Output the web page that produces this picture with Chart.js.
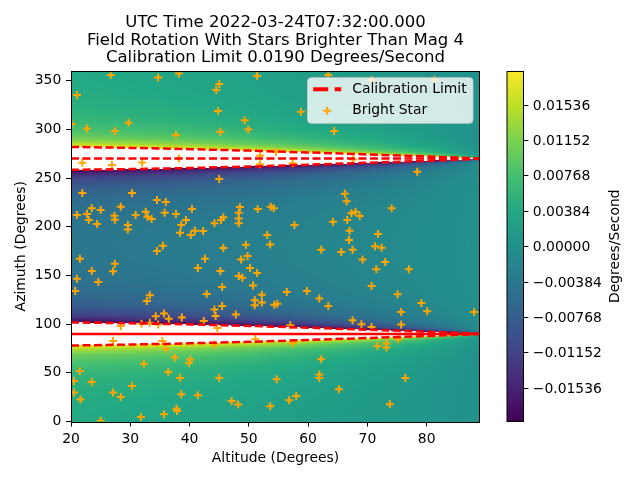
<!DOCTYPE html>
<html>
<head>
<meta charset="utf-8">
<script src="https://cdn.jsdelivr.net/npm/chart.js@4.4.0/dist/chart.umd.min.js"></script>
<style>
  html, body { margin: 0; padding: 0; background: #fff; }
  canvas { display: block; }
</style>
</head>
<body>
<canvas id="field_rotation" width="640" height="480"></canvas>
<script>
const TITLE_LINES = [
  'UTC Time 2022-03-24T07:32:00.000',
  'Field Rotation With Stars Brighter Than Mag 4',
  'Calibration Limit 0.0190 Degrees/Second'
];
const RATE_LIMIT = 0.019;     // 色の範囲 (これを超えると白抜き)
const EARTH_RATE = 0.00418;   // deg/s, 左下 (az=0) の色から読んだ値
const CBAR_TICKS = [-0.01536, -0.01152, -0.00768, -0.00384, 0, 0.00384, 0.00768, 0.01152, 0.01536];

// 限界ラインを読み取った点
const CONTOUR_ALT = [20, 30, 40, 50, 60, 70, 80, 89];
const LIMIT_270_HIGH = [282, 281, 279.7, 278.2, 276.3, 274.3, 272.2, 270.2];
const LIMIT_270_LOW = [258.5, 259.2, 260.3, 261.8, 263.7, 265.7, 267.8, 269.8];
const LIMIT_90_HIGH = [101.8, 100.9, 99.7, 98.2, 96.3, 94.3, 92.2, 90.2];
const LIMIT_90_LOW = [78, 79, 80.3, 81.8, 83.7, 85.7, 87.8, 89.8];
const SEAM_ALT = [20, 89];
const SEAM_270 = [270.2, 270.2];
const SEAM_90 = [89.8, 89.8];

const STAR_ALT = [
  26.7, 34.7, 38.2, 21.0, 20.1, 22.7, 29.7, 27.4, 37.7, 21.9, 26.9, 32.0, 38.2, 21.9, 30.3, 34.5, 36.0, 21.0, 23.5, 22.7,
  23.0, 24.4, 25.0, 27.3, 27.4, 28.4, 29.6, 29.6, 30.9, 32.6, 32.9, 33.6, 35.8, 37.7, 40.4, 39.4, 38.6, 38.4, 40.2, 40.9,
  42.3, 35.5,
  51.4, 45.0, 44.5, 63.4, 44.8, 49.3, 49.9, 45.2, 58.8, 64.4, 54.6, 51.9, 51.9, 57.4, 45.0, 66.2, 66.5, 48.5, 48.3, 48.3,
  48.3, 51.5, 53.7, 54.2, 44.2, 45.3, 45.7, 57.7, 64.2, 53.1, 53.6, 49.5, 45.7, 62.2,
  70.7, 81.3, 78.4, 74.1, 67.3, 68.0, 68.7, 66.6, 67.0, 71.8, 66.9, 71.3, 72.4, 67.5, 67.6,
  21.5, 27.4, 27.1, 23.5, 21.0, 24.6, 20.7, 34.5, 42.6, 41.4, 42.9, 33.3, 32.8, 34.3, 35.7, 36.5, 38.7, 33.3, 31.9, 34.7,
  42.4, 28.4, 27.1, 35.4, 36.0, 37.5, 32.3, 40.1, 39.9, 36.4, 21.5, 20.5, 23.5, 38.4, 30.3, 20.5, 27.1, 28.4, 21.6, 38.6,
  41.4, 37.8, 37.9, 35.7, 31.8, 25.0,
  65.6, 48.7, 49.8, 45.2, 50.2, 51.4, 48.3, 48.9, 45.5, 50.7, 56.4, 59.8, 52.2, 51.0, 52.2, 51.0, 54.3, 54.8, 61.9, 63.4,
  45.5, 44.2, 44.4, 47.8, 57.0, 44.7, 51.1, 44.2, 57.4, 62.2, 45.0, 54.7, 61.9, 61.9, 65.2, 47.1, 48.2, 58.0, 56.8, 53.6,
  69.2, 73.0, 71.5, 77.0, 70.7, 75.1, 79.1, 80.1, 75.7, 88.0, 67.5, 69.0, 70.7, 75.7, 75.2, 71.7, 73.2, 73.2, 76.4, 73.8
];
const STAR_AZ = [
  355.8, 353.4, 357.5, 335.2, 305.6, 301.0, 306.9, 298.3, 294.2, 265.8, 263.3, 266.1, 270.2, 234.6, 234.6, 227.4, 225.4, 212.0, 218.9, 213.0,
  206.9, 202.8, 217.1, 211.2, 207.1, 220.6, 201.7, 197.3, 212.0, 215.5, 210.4, 207.9, 214.5, 213.0, 218.2, 206.9, 201.7, 193.9, 191.5, 196.0,
  195.6, 180.4,
  355.1, 346.5, 340.4, 355.8, 318.8, 309.5, 300.0, 297.6, 318.2, 298.3, 277.1, 273.0, 264.1, 265.1, 249.0, 233.8, 226.1, 220.4, 214.3, 208.6,
  203.5, 218.2, 220.6, 218.9, 203.5, 206.9, 209.7, 201.7, 205.2, 191.5, 181.9, 181.4, 178.1, 176.3,
  350.6, 350.6, 256.6, 218.9, 213.8, 215.5, 211.0, 206.9, 196.0, 192.5, 186.3, 179.9, 178.5, 176.3, 269.2,
  167.2, 162.1, 154.2, 154.5, 146.7, 143.2, 134.0, 175.1, 167.2, 157.6, 130.9, 129.6, 123.7, 108.0, 110.8, 105.6, 106.7, 101.5, 100.5, 99.5,
  103.2, 98.1, 82.6, 82.6, 74.8, 65.6, 59.4, 63.6, 60.1, 50.8, 51.8, 41.6, 40.6, 44.7, 36.4, 29.7, 29.7, 25.2, 22.5, 27.9,
  26.9, 13.2, 10.8, 7.4, 4.6, 0.7,
  174.0, 166.5, 169.9, 154.5, 157.6, 152.5, 149.4, 147.7, 138.1, 139.8, 133.0, 134.0, 130.3, 124.4, 122.1, 119.3, 120.0, 121.0, 126.2, 118.6,
  118.6, 114.9, 108.3, 109.8, 98.8, 96.0, 84.4, 79.3, 80.6, 63.9, 44.7, 43.3, 48.2, 44.7, 33.1, 21.0, 17.4, 26.2, 21.8, 15.6,
  166.5, 163.8, 156.3, 156.3, 139.1, 130.6, 121.7, 113.1, 112.4, 112.4, 103.9, 99.8, 97.0, 99.5, 84.4, 77.5, 80.0, 75.9, 44.7, 17.7
];

const FONT = 'DejaVu Sans';
const DEG = Math.PI / 180;
const VIRIDIS = ['#440154', '#482475', '#414487', '#355f8d', '#2a788e', '#21918c', '#22a884', '#44bf70', '#7ad151', '#bddf26', '#fde725'];
const VIRIDIS_RGB = VIRIDIS.map(h => [1, 3, 5].map(i => parseInt(h.substr(i, 2), 16)));

const viridis = (t) => {
  const f = Math.min(Math.max(t, 0), 1) * (VIRIDIS_RGB.length - 1);
  const i = Math.min(Math.floor(f), VIRIDIS_RGB.length - 2);
  const r = f - i;
  return VIRIDIS_RGB[i].map((c, k) => c + (VIRIDIS_RGB[i + 1][k] - c) * r);
};

const toPoints = (xs, ys) => xs.map((x, i) => ({ x: x, y: ys[i] }));

// 背景の回転速度マップ (範囲外は白)
const heatmapPlugin = {
  id: 'rateMap',
  beforeDatasetsDraw(chart) {
    const { left, top, right, bottom } = chart.chartArea;
    const xs = chart.scales.x, ys = chart.scales.y;
    const w = Math.round(right - left), h = Math.round(bottom - top);
    const off = document.createElement('canvas');
    off.width = w; off.height = h;
    const octx = off.getContext('2d');
    const img = octx.createImageData(w, h);
    const colCos = [];
    for (let px = 0; px < w; px++) colCos.push(Math.cos(xs.getValueForPixel(left + px + 0.5) * DEG));
    for (let py = 0; py < h; py++) {
      const rowCos = Math.cos(ys.getValueForPixel(top + py + 0.5) * DEG);
      for (let px = 0; px < w; px++) {
        const v = EARTH_RATE * colCos[px] / rowCos;
        if (!(Math.abs(v) <= RATE_LIMIT)) continue;
        const c = viridis((v + RATE_LIMIT) / (2 * RATE_LIMIT));
        const o = (py * w + px) * 4;
        img.data[o] = c[0]; img.data[o + 1] = c[1]; img.data[o + 2] = c[2]; img.data[o + 3] = 255;
      }
    }
    octx.putImageData(img, 0, 0);
    chart.ctx.drawImage(off, left, top);
  }
};

const framePlugin = {
  id: 'frameAndLegend',
  afterDatasetsDraw(chart) {
    const ctx = chart.ctx;
    const a = chart.chartArea;
    ctx.save();
    ctx.strokeStyle = '#000';
    ctx.lineWidth = 1;
    ctx.strokeRect(Math.round(a.left) + 0.5, Math.round(a.top) + 0.5, Math.round(a.right - a.left) - 1, Math.round(a.bottom - a.top));

    // 凡例
    const w = 165.5, h = 45.7;
    const x0 = a.right - 7 - w, y0 = a.top + 6.7;
    ctx.beginPath();
    if (ctx.roundRect) ctx.roundRect(x0, y0, w, h, 3.5); else ctx.rect(x0, y0, w, h);
    ctx.fillStyle = 'rgba(255,255,255,0.8)';
    ctx.fill();
    ctx.strokeStyle = 'rgba(204,204,204,0.8)';
    ctx.stroke();

    const limitSet = chart.data.datasets[0];
    const starSet = chart.data.datasets[chart.data.datasets.length - 1];
    const row1 = y0 + 11.6, row2 = y0 + 33;
    ctx.strokeStyle = limitSet.borderColor;
    ctx.lineWidth = 4;
    ctx.setLineDash([15, 6.5]);
    ctx.beginPath();
    ctx.moveTo(x0 + 5.7, row1); ctx.lineTo(x0 + 33.7, row1);
    ctx.stroke();
    ctx.setLineDash([]);
    ctx.strokeStyle = starSet.pointBorderColor;
    ctx.lineWidth = 2;
    ctx.beginPath();
    ctx.moveTo(x0 + 19.7 - 4, row2); ctx.lineTo(x0 + 19.7 + 4, row2);
    ctx.moveTo(x0 + 19.7, row2 - 4); ctx.lineTo(x0 + 19.7, row2 + 4);
    ctx.stroke();
    ctx.fillStyle = '#000';
    ctx.font = `13.9px "${FONT}"`;
    ctx.textBaseline = 'middle';
    ctx.textAlign = 'left';
    ctx.fillText(limitSet.label, x0 + 44.7, row1);
    ctx.fillText(starSet.label, x0 + 44.7, row2);
    ctx.restore();
  },
  afterDraw(chart) {
    // カラーバー
    const ctx = chart.ctx;
    const a = chart.chartArea;
    const bl = a.right + 27, bw = 16.5;
    const top = a.top, bottom = a.bottom;
    ctx.save();
    const g = ctx.createLinearGradient(0, bottom, 0, top);
    VIRIDIS.forEach((c, i) => g.addColorStop(i / (VIRIDIS.length - 1), c));
    ctx.fillStyle = g;
    ctx.fillRect(bl, top, bw, bottom - top);
    ctx.strokeStyle = '#000';
    ctx.lineWidth = 1;
    ctx.strokeRect(bl, top + 0.5, bw, bottom - top - 0.5);
    ctx.font = `13.9px "${FONT}"`;
    ctx.fillStyle = '#000';
    ctx.textAlign = 'left';
    ctx.textBaseline = 'middle';
    CBAR_TICKS.forEach(v => {
      const y = Math.round(bottom - (v + RATE_LIMIT) / (2 * RATE_LIMIT) * (bottom - top)) + 0.5;
      ctx.beginPath();
      ctx.moveTo(bl + bw, y); ctx.lineTo(bl + bw + 4.9, y);
      ctx.stroke();
      const label = (v < 0 ? '\u2212' : '') + Math.abs(v).toFixed(5);
      ctx.fillText(label, bl + bw + 9.3, y + 0.5);
    });
    ctx.translate(615, (top + bottom) / 2);
    ctx.rotate(-Math.PI / 2);
    ctx.textAlign = 'center';
    ctx.fillText('Degrees/Second', 0, 0);
    ctx.restore();
  }
};

const limitLine = (label, ys) => ({
  type: 'line',
  label: label,
  data: toPoints(CONTOUR_ALT, ys),
  borderColor: '#ff0000',
  borderWidth: 2.5,
  borderDash: [8, 3.5],
  pointRadius: 0,
  fill: false,
  tension: 0,
  order: 0,
});

window.onload = function () {
  Chart.defaults.font.family = FONT;
  Chart.defaults.color = '#000';
  const context = document.querySelector('#field_rotation').getContext('2d');
  new Chart(context, {
    type: 'scatter',
    data: {
      datasets: [
        limitLine('Calibration Limit', LIMIT_270_HIGH),
        limitLine('Calibration Limit', LIMIT_270_LOW),
        limitLine('Calibration Limit', LIMIT_90_HIGH),
        limitLine('Calibration Limit', LIMIT_90_LOW),
        Object.assign(limitLine('Calibration Limit', SEAM_270), { data: toPoints(SEAM_ALT, SEAM_270) }),
        Object.assign(limitLine('Calibration Limit', SEAM_90), { data: toPoints(SEAM_ALT, SEAM_90), borderDash: [] }),
        {
          label: 'Bright Star',
          data: toPoints(STAR_ALT, STAR_AZ),
          pointStyle: 'cross',
          pointRadius: 4,
          pointHoverRadius: 4,
          pointBorderWidth: 2,
          pointBorderColor: '#ffa500',
          pointBackgroundColor: '#ffa500',
          order: 1,
        },
      ],
    },
    options: {
      responsive: false,
      animation: false,
      devicePixelRatio: 1,
      events: [],
      layout: { padding: { left: 0, top: 0, right: 160, bottom: 0 } },
      plugins: {
        legend: { display: false },
        tooltip: { enabled: false },
        title: {
          display: true,
          text: TITLE_LINES,
          fullSize: false,
          color: '#000',
          font: { size: 16.5, weight: 'normal', lineHeight: 1.07 },
          padding: { top: 14, bottom: 4 },
        },
      },
      scales: {
        x: {
          type: 'linear',
          min: 20,
          max: 89,
          afterFit: (s) => { s.height = 58.5; },
          ticks: { stepSize: 10, includeBounds: false, padding: 5, maxRotation: 0, font: { size: 13.9 }, color: '#000' },
          grid: { drawOnChartArea: false, tickLength: 5, color: '#000', tickColor: '#000' },
          border: { display: false },
          title: { display: true, text: 'Altitude (Degrees)', font: { size: 13.9 }, padding: { bottom: 13.5 }, color: '#000' },
        },
        y: {
          type: 'linear',
          min: 0,
          max: 360,
          afterFit: (s) => { s.width = 71; },
          ticks: { stepSize: 50, includeBounds: false, padding: 4.7, font: { size: 13.9 }, color: '#000' },
          grid: { drawOnChartArea: false, tickLength: 5, color: '#000', tickColor: '#000' },
          border: { display: false },
          title: { display: true, text: 'Azimuth (Degrees)', font: { size: 13.9 }, padding: { top: 12.7 }, color: '#000' },
        },
      },
    },
    plugins: [heatmapPlugin, framePlugin],
  });
};
</script>
</body>
</html>
